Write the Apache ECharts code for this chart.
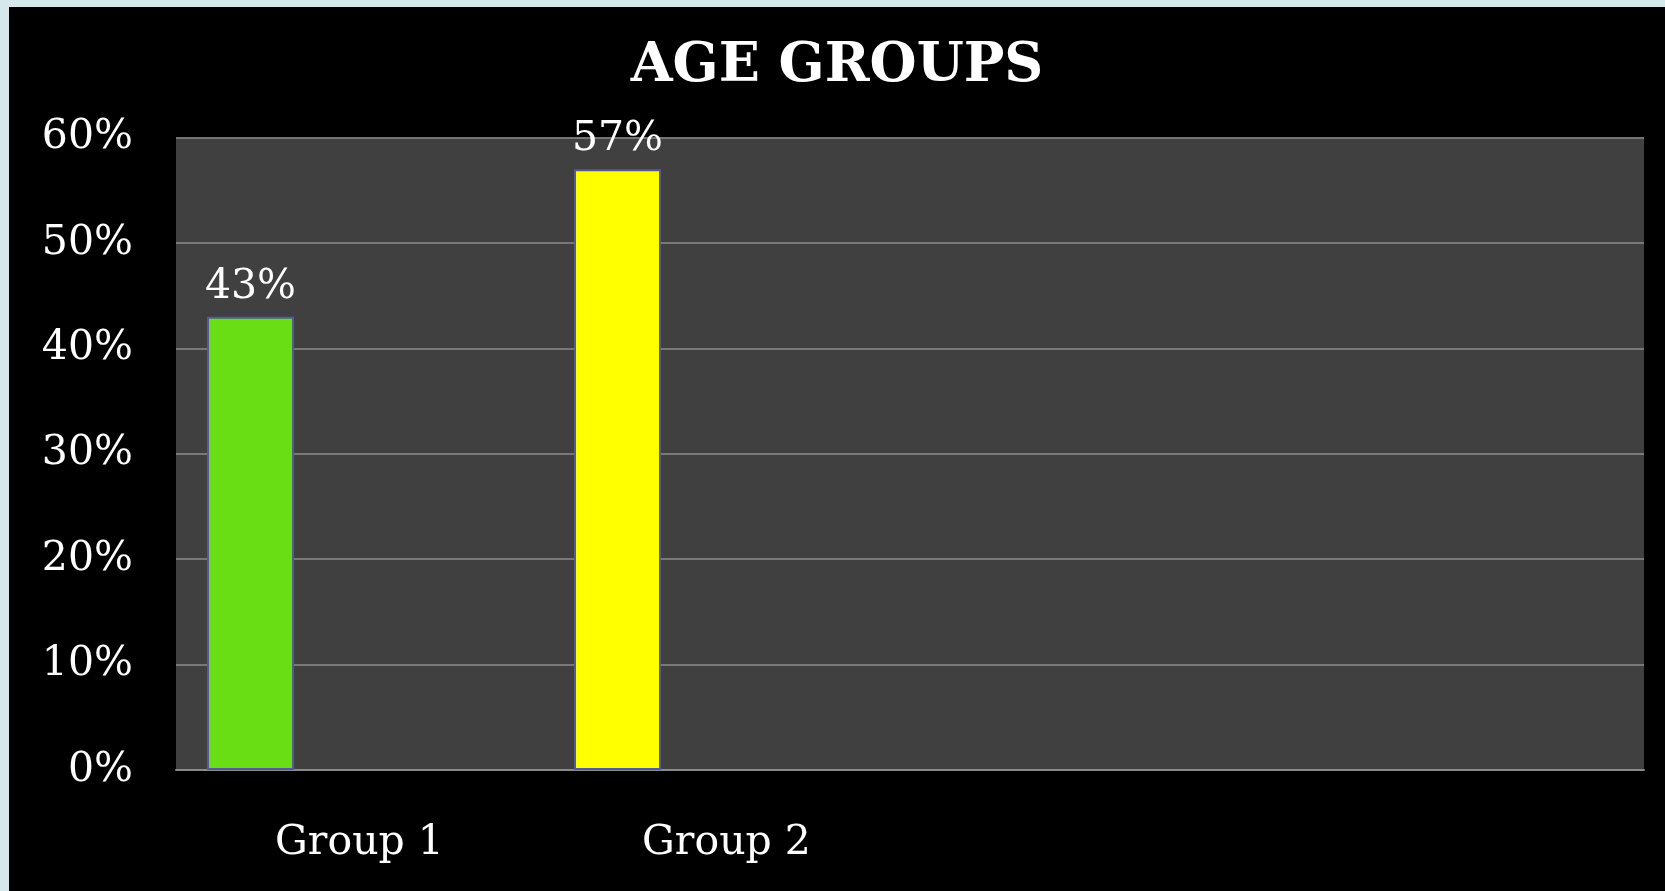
<!DOCTYPE html>
<html>
<head>
<meta charset="utf-8">
<script src="https://cdn.jsdelivr.net/npm/echarts@6/dist/echarts.min.js"></script>
<style>
  html, body { margin: 0; padding: 0; background: #d6e8ec; width: 1665px; height: 891px; overflow: hidden; }
  #chart { position: absolute; left: 9px; top: 7px; width: 1656px; height: 884px; }
</style>
</head>
<body>
<div id="chart"></div>
<script>
// ---- data ----
const title = 'AGE GROUPS';
const categories = ['Group 1', 'Group 2', '', ''];
const values = [43, 57, null, null];
const yTicks = [0, 10, 20, 30, 40, 50, 60];

// ---- styles ----
const barColors = ['#6ade14', '#ffff00'];
const FONT = "Georgia, 'DejaVu Serif', serif";

const chart = echarts.init(document.getElementById('chart'), null, { renderer: 'canvas' });

const yMin = yTicks[0], yMax = yTicks[yTicks.length - 1], yStep = yTicks[1] - yTicks[0];

const barData = values.map((v, i) => ({
  value: v,
  itemStyle: { color: barColors[i % barColors.length] }
}));

const gridTop = 130.5, gridBottom = 121;
const plotLeft = 167, plotRight = 21;
const barShift = 109; // bars sit left of the category centre in the original

chart.setOption({
  backgroundColor: '#000000',
  title: {
    text: title,
    left: 'center',
    top: 28,
    textStyle: { color: '#ffffff', fontFamily: FONT, fontWeight: 'bold', fontSize: 54 }
  },
  grid: [
    { left: plotLeft, right: plotRight, top: gridTop, bottom: gridBottom, show: true, backgroundColor: '#404040', borderWidth: 0 },
    { left: plotLeft - barShift, right: plotRight + barShift, top: gridTop, bottom: gridBottom }
  ],
  xAxis: [
    { gridIndex: 0, type: 'category', data: categories,
      axisLine: { show: true, lineStyle: { color: '#8a8a8a', width: 2 } },
      axisTick: { show: false }, splitLine: { show: false },
      axisLabel: { show: true, color: '#ffffff', fontFamily: FONT, fontSize: 41, margin: 53, interval: 0 } },
    { gridIndex: 1, type: 'category', data: categories, show: false }
  ],
  yAxis: [
    { gridIndex: 0, type: 'value', min: yMin, max: yMax, interval: yStep,
      axisLine: { show: false }, axisTick: { show: false },
      splitLine: { show: true, lineStyle: { color: '#8c8c8c', width: 1.5 } },
      axisLabel: { color: '#ffffff', fontFamily: FONT, fontSize: 41, margin: 43, formatter: v => v + '%' } },
    { gridIndex: 1, type: 'value', min: yMin, max: yMax, interval: yStep, show: false }
  ],
  series: [
    {
      type: 'bar',
      xAxisIndex: 1,
      yAxisIndex: 1,
      data: barData,
      barWidth: 87,
      itemStyle: { borderColor: '#55599a', borderWidth: 2 },
      label: {
        show: true,
        position: 'top',
        distance: 9,
        color: '#ffffff',
        fontFamily: FONT,
        fontSize: 41,
        formatter: p => p.value + '%'
      }
    }
  ],
  animation: false
});
</script>
</body>
</html>
